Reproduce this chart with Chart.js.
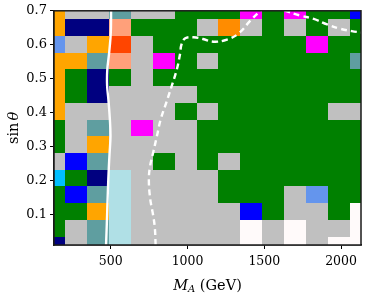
<!DOCTYPE html>
<html><head><meta charset="utf-8">
<script src="https://cdn.jsdelivr.net/npm/chart.js@4/dist/chart.umd.min.js"></script>
<style>html,body{margin:0;padding:0;background:#fff}#wrap{width:366px;height:296px}</style>
</head><body><div id="wrap"><canvas id="c"></canvas></div>
<script>
// M_A grid centres (GeV) and sin(theta) grid centres (bottom to top)
const massCenters = [130, 272.9, 415.7, 558.6, 701.4, 844.3, 987.1, 1130, 1272.9, 1415.7, 1558.6, 1701.4, 1844.3, 1987.1, 2130];
const sinCenters = [0.01, 0.0593, 0.1086, 0.1579, 0.2071, 0.2564, 0.3057, 0.355, 0.4043, 0.4536, 0.5029, 0.5521, 0.6014, 0.6507, 0.7];
// cell category codes, one string per row, top row (sin=0.7) first, columns left to right
const cellCodes = [
  "OKKTKKGGGMGMGGB",
  "ONNSGGGKAKGKGKG",
  "CKORKGGGGGGGMGG",
  "OOTSKMGKGGGGGGT",
  "OGNGKGGGGGGGGGG",
  "OGNKKKKGGGGGGGG",
  "OKKKKKGKGGGGGKK",
  "GKTKMKKGGGGGGGG",
  "GKOKKKKGGGGGGGG",
  "KBTKKGKGKGGGGGG",
  "DGNPKKKKGGGGGGG",
  "GBTPKKKKGGGKCGG",
  "GGOPKKKKKBGKKGW",
  "GKTPKKKKKWKWKKW",
  "NKTPKKKKKWKWKWW"
];
const colorByCode = {O:'#FFA500', N:'#000080', S:'#FFA07A', C:'#6495ED', R:'#FF4500', T:'#5F9EA0', M:'#FF00FF', G:'#008000', K:'#C0C0C0', B:'#0000FF', D:'#00BFFF', P:'#B0E0E6', A:'#FF8C00', W:'#FFFAFA'};
// solid white contour
const solidMass = [469, 472, 476, 481, 487, 492, 498, 494, 484, 476, 477, 489, 498, 501, 502];
const solidSin  = [0.01, 0.046, 0.10, 0.17, 0.237, 0.28, 0.33, 0.38, 0.44, 0.48, 0.525, 0.575, 0.62, 0.65, 0.70];
// dashed white contour, left branch (bottom to top) and right branch
const dashLeftMass = [792, 787, 775, 757, 748, 755, 775, 800, 825, 862, 898, 930, 952, 960, 985, 1040, 1100, 1169, 1257, 1332, 1409, 1463, 1480];
const dashLeftSin  = [0.01, 0.06, 0.10, 0.145, 0.20, 0.24, 0.28, 0.33, 0.38, 0.43, 0.48, 0.527, 0.575, 0.60, 0.619, 0.622, 0.617, 0.609, 0.615, 0.633, 0.671, 0.695, 0.702];
const dashRightMass = [1630, 1648, 1735, 1822, 1909, 1996, 2070, 2133];
const dashRightSin  = [0.702, 0.698, 0.686, 0.676, 0.660, 0.647, 0.640, 0.636];
const xTickValues = [500, 1000, 1500, 2000];
const yTickValues = [0.1, 0.2, 0.3, 0.4, 0.5, 0.6, 0.7];
const xTitleMain = 'M', xTitleSub = 'A', xTitleRest = ' (GeV)';
const yTitleMain = 'sin', yTitleSym = 'θ';

const SERIF = '"DejaVu Serif", "Liberation Serif", serif';
const pts = (ms, ss) => ms.map((m, k) => ({x: m, y: ss[k]}));

const cellsPlugin = {
  id: 'cells',
  beforeDatasetsDraw(chart) {
    const {ctx, chartArea: a, scales: {x, y}} = chart;
    const nx = massCenters.length, ny = sinCenters.length;
    const xEdge = i => i <= 0 ? x.min : i >= nx ? x.max : (massCenters[i - 1] + massCenters[i]) / 2;
    const yEdge = j => j <= 0 ? y.min : j >= ny ? y.max : (sinCenters[j - 1] + sinCenters[j]) / 2;
    ctx.save();
    ctx.beginPath(); ctx.rect(a.left, a.top, a.right - a.left, a.bottom - a.top); ctx.clip();
    cellCodes.forEach((row, r) => {
      const j = ny - 1 - r;
      const yb = Math.round(y.getPixelForValue(yEdge(j)));
      const yt = Math.round(y.getPixelForValue(yEdge(j + 1)));
      for (let i = 0; i < nx; i++) {
        const xl = Math.round(x.getPixelForValue(xEdge(i)));
        const xr = Math.round(x.getPixelForValue(xEdge(i + 1)));
        ctx.fillStyle = colorByCode[row[i]];
        ctx.fillRect(xl, yt, xr - xl, yb - yt);
      }
    });
    ctx.restore();
  }
};

const framePlugin = {
  id: 'frame',
  afterDraw(chart) {
    const {ctx, chartArea: a} = chart;
    ctx.save();
    ctx.strokeStyle = '#1a1a1a'; ctx.lineWidth = 1.5;
    ctx.strokeRect(a.left, a.top, a.right - a.left, a.bottom - a.top);
    ctx.fillStyle = '#000';
    // x title
    const big = 14.5, small = 10;
    ctx.textBaseline = 'alphabetic';
    ctx.font = 'italic ' + big + 'px ' + SERIF; const wM = ctx.measureText(xTitleMain).width;
    ctx.font = 'italic ' + small + 'px ' + SERIF; const wA = ctx.measureText(xTitleSub).width;
    ctx.font = big + 'px ' + SERIF; const wR = ctx.measureText(xTitleRest).width;
    let cx = (a.left + a.right) / 2 - (wM + wA + wR) / 2; const by = 289.5;
    ctx.font = 'italic ' + big + 'px ' + SERIF; ctx.fillText(xTitleMain, cx, by); cx += wM;
    ctx.font = 'italic ' + small + 'px ' + SERIF; ctx.fillText(xTitleSub, cx, by + 2.5); cx += wA;
    ctx.font = big + 'px ' + SERIF; ctx.fillText(xTitleRest, cx, by);
    // y title
    ctx.translate(17.5, (a.top + a.bottom) / 2);
    ctx.rotate(-Math.PI / 2);
    ctx.font = big + 'px ' + SERIF; const ws = ctx.measureText(yTitleMain).width;
    ctx.font = 'italic ' + big + 'px ' + SERIF; const wt = ctx.measureText(yTitleSym).width;
    let sx = -(ws + 2 + wt) / 2;
    ctx.font = big + 'px ' + SERIF; ctx.fillText(yTitleMain, sx, 0); sx += ws + 2;
    ctx.font = 'italic ' + big + 'px ' + SERIF; ctx.fillText(yTitleSym, sx, 0);
    ctx.restore();
  }
};

const lineStyle = {borderColor: '#ffffff', borderWidth: 2.4, showLine: true, pointRadius: 0, tension: 0.4, fill: false, clip: 0};

new Chart(document.getElementById('c'), {
  type: 'scatter',
  data: {datasets: [
    Object.assign({label: 'solid', data: pts(solidMass, solidSin)}, lineStyle),
    Object.assign({label: 'dashed', data: pts(dashLeftMass, dashLeftSin), borderDash: [6, 4]}, lineStyle),
    Object.assign({label: 'dashed2', data: pts(dashRightMass, dashRightSin), borderDash: [6, 4]}, lineStyle)
  ]},
  options: {
    responsive: true, maintainAspectRatio: false, animation: false,
    layout: {padding: {top: 7, right: 5, left: 0, bottom: 0}},
    plugins: {legend: {display: false}, tooltip: {enabled: false}},
    scales: {
      x: {
        type: 'linear', min: 130, max: 2130,
        afterBuildTicks: s => { s.ticks = xTickValues.map(v => ({value: v})); },
        afterFit: s => { s.height = 51; },
        ticks: {font: {family: SERIF, size: 12.5}, color: '#000', padding: 5, maxRotation: 0, autoSkip: false, callback: v => String(v)},
        grid: {drawOnChartArea: false, drawTicks: true, tickLength: 4, tickColor: '#000', tickWidth: 1},
        border: {display: true, color: '#1a1a1a', width: 1.5}
      },
      y: {
        type: 'linear', min: 0.01, max: 0.7,
        afterBuildTicks: s => { s.ticks = yTickValues.map(v => ({value: v})); },
        afterFit: s => { s.width = 54; },
        ticks: {font: {family: SERIF, size: 13}, color: '#000', padding: 3, autoSkip: false, callback: v => v.toFixed(1)},
        grid: {drawOnChartArea: false, drawTicks: true, tickLength: 4, tickColor: '#000', tickWidth: 1},
        border: {display: true, color: '#1a1a1a', width: 1.5}
      }
    }
  },
  plugins: [cellsPlugin, framePlugin]
});
</script></body></html>
